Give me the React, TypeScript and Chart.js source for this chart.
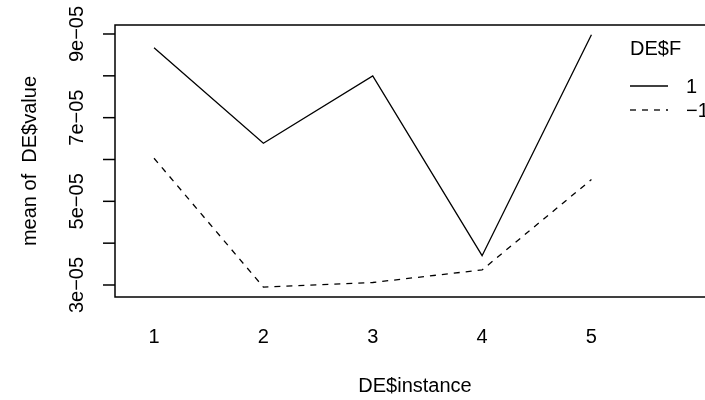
import React, { useEffect, useRef } from "react";
import { Chart, registerables } from "chart.js";

Chart.register(...registerables);

const categories = [1, 2, 3, 4, 5];
const xTickLabels = ["1", "2", "3", "4", "5"];
const seriesNames = ["1", "\u22121"];
const seriesPos = [8.67e-5, 6.39e-5, 8.0e-5, 3.7e-5, 8.98e-5];
const seriesNeg = [6.03e-5, 2.95e-5, 3.06e-5, 3.36e-5, 5.52e-5];
const yTickValues = [3e-5, 4e-5, 5e-5, 6e-5, 7e-5, 8e-5, 9e-5];
const yTickLabels = ["3e\u221205", "", "5e\u221205", "", "7e\u221205", "", "9e\u221205"];
const xTitle = "DE$instance";
const yTitle = "mean of  DE$value";
const legendTitle = "DE$F";

const FONT = '20px "Liberation Sans", Arial, sans-serif';
const DASH = [6, 6];

const rPlugin = {
  id: "rdecor",
  afterDraw(chart: any) {
    const { ctx, chartArea } = chart;
    const xs = chart.scales.x;
    const ys = chart.scales.y;
    const { left, top, right, bottom } = chartArea;
    ctx.save();
    ctx.strokeStyle = "#000";
    ctx.fillStyle = "#000";
    ctx.lineWidth = 1.5;
    // box
    ctx.strokeRect(left, top, right - left, bottom - top);
    // y ticks
    ctx.font = FONT;
    yTickValues.forEach((v, i) => {
      const y = ys.getPixelForValue(v);
      ctx.beginPath();
      ctx.moveTo(left - 12, y);
      ctx.lineTo(left, y);
      ctx.stroke();
      if (yTickLabels[i]) {
        ctx.save();
        ctx.translate(83, y);
        ctx.rotate(-Math.PI / 2);
        ctx.textAlign = "center";
        ctx.textBaseline = "alphabetic";
        ctx.fillText(yTickLabels[i], 0, 0);
        ctx.restore();
      }
    });
    // y title
    ctx.save();
    ctx.translate(36, (top + bottom) / 2);
    ctx.rotate(-Math.PI / 2);
    ctx.textAlign = "center";
    ctx.textBaseline = "alphabetic";
    ctx.fillText(yTitle, 0, 0);
    ctx.restore();
    // x labels
    ctx.textAlign = "center";
    ctx.textBaseline = "alphabetic";
    categories.forEach((c, i) => {
      ctx.fillText(xTickLabels[i], xs.getPixelForValue(c), 343);
    });
    // x title
    ctx.fillText(xTitle, (left + right) / 2, 392);
    // legend
    ctx.textAlign = "left";
    ctx.fillText(legendTitle, 630, 55);
    const ly = [86, 110];
    chart.data.datasets.forEach((ds: any, i: number) => {
      ctx.save();
      ctx.lineWidth = 1.3;
      ctx.setLineDash(ds.borderDash || []);
      ctx.beginPath();
      ctx.moveTo(630, ly[i]);
      ctx.lineTo(668, ly[i]);
      ctx.stroke();
      ctx.restore();
      ctx.fillText(seriesNames[i], 686, ly[i] + 7);
    });
    ctx.restore();
  },
};

export default function App() {
  const ref = useRef<HTMLCanvasElement | null>(null);
  useEffect(() => {
    if (!ref.current) return;
    const chart = new Chart(ref.current, {
      type: "line",
      data: {
        datasets: [
          {
            label: seriesNames[0],
            data: categories.map((c, i) => ({ x: c, y: seriesPos[i] })),
            borderColor: "#000",
            borderWidth: 1.3,
            pointRadius: 0,
            fill: false,
            tension: 0,
          },
          {
            label: seriesNames[1],
            data: categories.map((c, i) => ({ x: c, y: seriesNeg[i] })),
            borderColor: "#000",
            borderWidth: 1.3,
            borderDash: DASH,
            pointRadius: 0,
            fill: false,
            tension: 0,
          },
        ],
      },
      options: {
        animation: false,
        responsive: false,
        maintainAspectRatio: false,
        layout: { padding: { left: 115, top: 25, right: 45, bottom: 103 } },
        plugins: { legend: { display: false }, tooltip: { enabled: false }, title: { display: false } },
        scales: {
          x: { type: "linear", display: false, min: 0.643, max: 6.13 },
          y: { type: "linear", display: false, min: 2.713e-5, max: 9.215e-5 },
        },
      },
      plugins: [rPlugin],
    });
    return () => chart.destroy();
  }, []);
  return (
    <div style={{ position: "fixed", left: 0, top: 0, width: 760, height: 400, background: "#fff" }}>
      <canvas ref={ref} width={760} height={400} style={{ width: 760, height: 400, display: "block" }} />
    </div>
  );
}
